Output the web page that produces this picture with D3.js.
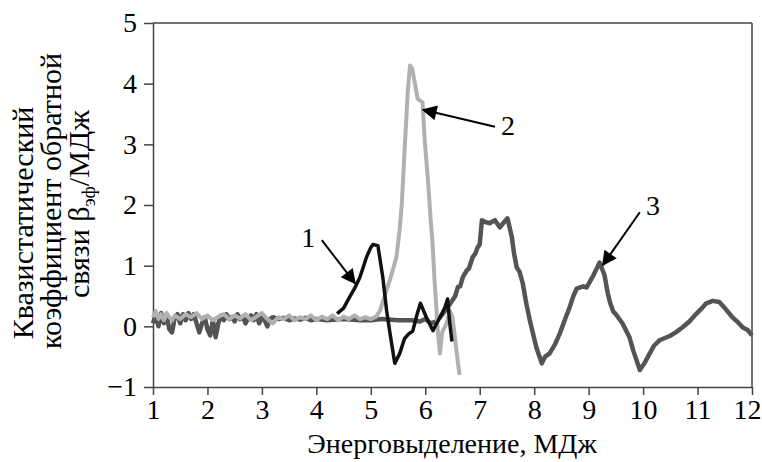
<!DOCTYPE html>
<html>
<head>
<meta charset="utf-8">
<script src="https://cdn.jsdelivr.net/npm/d3@7"></script>
<style>
  body { margin: 0; background: #fff; }
  text { font-family: "Liberation Serif", "Times New Roman", serif; fill: #000; }
</style>
</head>
<body>
<div id="chart"></div>
<script>
// series, [energy MJ, beta]
var curve1 = [
    [4.38, 0.21], [4.5, 0.3], [4.61, 0.48], [4.7, 0.62], [4.8, 0.81], [4.92, 1.14], [5.0, 1.3],
    [5.04, 1.35], [5.13, 1.33], [5.22, 0.81], [5.29, 0.26], [5.35, -0.1], [5.44, -0.61],
    [5.53, -0.45], [5.62, -0.2], [5.7, -0.12], [5.77, -0.08], [5.85, 0.2], [5.91, 0.38],
    [6.02, 0.15], [6.14, -0.07], [6.27, 0.15], [6.36, 0.31], [6.41, 0.45], [6.45, 0.05], [6.49, -0.25]
];

var curve2 = [
    [1.0, 0.15], [1.05, 0.25], [1.1, 0.12], [1.15, 0.2], [1.2, 0.1], [1.25, 0.22], [1.3, 0.15],
    [1.35, 0.1], [1.4, 0.18], [1.5, 0.12], [1.6, 0.2], [1.7, 0.15], [1.8, 0.22], [1.9, 0.12],
    [2.0, 0.18], [2.1, 0.1], [2.2, 0.16], [2.3, 0.2], [2.4, 0.12], [2.5, 0.18], [2.6, 0.13],
    [2.7, 0.2], [2.8, 0.1], [2.9, 0.16], [3.0, 0.22], [3.1, 0.12], [3.2, 0.05], [3.3, 0.15],
    [3.4, 0.12], [3.5, 0.18], [3.6, 0.1], [3.7, 0.15], [3.8, 0.12], [3.9, 0.18], [4.0, 0.1],
    [4.1, 0.16], [4.2, 0.12], [4.3, 0.18], [4.4, 0.1], [4.5, 0.16], [4.6, 0.12], [4.7, 0.18],
    [4.8, 0.12], [4.9, 0.15], [5.0, 0.12], [5.1, 0.16], [5.17, 0.26], [5.29, 0.6], [5.35, 0.76],
    [5.47, 1.14], [5.53, 1.6], [5.57, 2.03], [5.62, 2.9], [5.68, 3.89], [5.72, 4.3], [5.76, 4.25],
    [5.81, 4.0], [5.86, 3.75], [5.95, 3.69], [5.99, 3.06], [6.05, 2.4], [6.1, 1.75], [6.13, 1.42],
    [6.17, 0.76], [6.23, -0.07], [6.27, -0.45], [6.31, -0.1], [6.39, 0.05], [6.45, 0.26],
    [6.5, 0.15], [6.56, -0.3], [6.6, -0.6], [6.63, -0.8]
];

var curve3 = [
    [1.0, 0.05], [1.05, 0.2], [1.1, 0.0], [1.15, 0.22], [1.2, 0.05], [1.25, 0.18], [1.3, -0.05],
    [1.35, -0.1], [1.4, 0.15], [1.45, 0.2], [1.5, 0.05], [1.55, 0.2], [1.6, 0.1], [1.65, 0.22],
    [1.7, 0.12], [1.75, 0.2], [1.8, 0.05], [1.85, -0.1], [1.9, 0.05], [1.95, 0.15], [2.0, -0.05],
    [2.05, -0.15], [2.1, 0.1], [2.15, -0.18], [2.2, 0.05], [2.25, 0.18], [2.3, 0.1], [2.35, 0.2],
    [2.4, 0.12], [2.45, 0.15], [2.5, 0.08], [2.55, 0.2], [2.6, 0.12], [2.65, 0.16], [2.7, 0.05],
    [2.75, 0.14], [2.8, 0.18], [2.85, 0.1], [2.9, 0.2], [2.95, 0.05], [3.0, 0.15], [3.05, 0.1],
    [3.1, 0.0], [3.15, 0.12], [3.2, 0.15], [3.3, 0.12], [3.4, 0.14], [3.5, 0.1], [3.6, 0.13],
    [3.7, 0.11], [3.8, 0.14], [3.9, 0.1], [4.0, 0.12], [4.2, 0.1], [4.5, 0.12], [4.8, 0.1],
    [5.0, 0.1], [5.2, 0.12], [5.5, 0.1], [5.75, 0.1], [5.9, 0.08], [6.0, 0.12], [6.1, 0.05],
    [6.2, 0.08], [6.3, 0.18], [6.4, 0.3], [6.5, 0.43], [6.55, 0.5], [6.6, 0.65], [6.64, 0.66],
    [6.69, 0.81], [6.76, 0.92], [6.8, 0.95], [6.87, 1.14], [6.92, 1.2], [6.96, 1.3], [7.0, 1.35],
    [7.04, 1.75], [7.1, 1.72], [7.18, 1.7], [7.28, 1.75], [7.37, 1.63], [7.45, 1.72], [7.51, 1.78],
    [7.59, 1.47], [7.63, 1.2], [7.68, 0.97], [7.73, 0.9], [7.79, 0.71], [7.85, 0.4], [7.92, 0.1],
    [8.0, -0.2], [8.04, -0.35], [8.14, -0.61], [8.2, -0.5], [8.28, -0.45], [8.38, -0.3],
    [8.47, -0.12], [8.56, 0.1], [8.65, 0.31], [8.72, 0.5], [8.78, 0.62], [8.9, 0.66], [8.96, 0.64],
    [9.07, 0.81], [9.2, 1.05], [9.29, 0.85], [9.35, 0.55], [9.39, 0.4], [9.45, 0.25], [9.5, 0.2],
    [9.62, 0.05], [9.75, -0.18], [9.82, -0.4], [9.88, -0.56], [9.94, -0.72], [10.03, -0.6],
    [10.12, -0.45], [10.2, -0.32], [10.3, -0.23], [10.49, -0.16], [10.6, -0.1], [10.72, -0.02],
    [10.85, 0.08], [10.98, 0.21], [11.08, 0.3], [11.16, 0.38], [11.28, 0.42], [11.4, 0.4],
    [11.52, 0.28], [11.64, 0.15], [11.75, 0.06], [11.83, -0.02], [11.92, -0.06], [12.0, -0.15]
];

var xTicks = [1, 2, 3, 4, 5, 6, 7, 8, 9, 10, 11, 12];
var yTicks = [-1, 0, 1, 2, 3, 4, 5];

// annotation labels: text, label pos and arrow from/to in data units
var notes = [
    { label: "1", lx: 3.85, ly: 1.47, fx: 4.1, fy: 1.42, tx: 4.71, ty: 0.71 },
    { label: "2", lx: 7.52, ly: 3.32, fx: 7.28, fy: 3.29, tx: 5.96, ty: 3.57 },
    { label: "3", lx: 10.18, ly: 2.0, fx: 9.94, fy: 1.88, tx: 9.26, ty: 1.01 }
];

var W = 762, H = 462;
var x = d3.scaleLinear().domain([1, 12]).range([153, 752]);
var y = d3.scaleLinear().domain([-1, 5]).range([387, 23]);

var svg = d3.select("#chart").append("svg")
    .attr("width", W)
    .attr("height", H);

svg.append("defs").append("marker")
    .attr("id", "head")
    .attr("viewBox", "0 0 10 10")
    .attr("refX", 9)
    .attr("refY", 5)
    .attr("markerWidth", 18)
    .attr("markerHeight", 15)
    .attr("markerUnits", "userSpaceOnUse")
    .attr("orient", "auto")
    .append("path")
    .attr("d", "M0,0 L10,5 L0,10 z")
    .attr("fill", "#000");

// frame
svg.append("line").attr("x1", x(1)).attr("x2", x(12)).attr("y1", y(5)).attr("y2", y(5))
    .style("stroke", "#444").style("stroke-width", 1.5);
svg.append("line").attr("x1", x(12)).attr("x2", x(12)).attr("y1", y(5)).attr("y2", y(-1))
    .style("stroke", "#444").style("stroke-width", 1.5);

var xAxis = svg.append("g")
    .attr("transform", "translate(0," + y(-1) + ")")
    .call(d3.axisBottom(x).tickValues(xTicks).tickFormat(d3.format("d"))
        .tickSize(8).tickSizeOuter(0).tickPadding(4));
var yAxis = svg.append("g")
    .attr("transform", "translate(" + x(1) + ",0)")
    .call(d3.axisLeft(y).tickValues(yTicks).tickFormat(d3.format("d"))
        .tickSize(9).tickSizeOuter(0).tickPadding(7));

[xAxis, yAxis].forEach(function (a) {
    a.select(".domain").style("stroke", "#444").style("stroke-width", 1.5);
    a.selectAll(".tick line").style("stroke", "#444").style("stroke-width", 1.5);
    a.selectAll(".tick text")
        .style("font-family", "'Liberation Serif', serif")
        .style("font-size", "28px")
        .style("fill", "#000");
});
// last label sits at the window edge; nudge it in
xAxis.selectAll(".tick text").filter(function (d) { return d === 12; }).attr("dx", -5);

var line = d3.line()
    .x(function (d) { return x(d[0]); })
    .y(function (d) { return y(d[1]); });

svg.append("path").datum(curve3).attr("d", line)
    .style("fill", "none").style("stroke", "#545454").style("stroke-width", 4.5)
    .style("stroke-linejoin", "round");
svg.append("path").datum(curve2).attr("d", line)
    .style("fill", "none").style("stroke", "#b0b0b0").style("stroke-width", 4)
    .style("stroke-linejoin", "round");
svg.append("path").datum(curve1).attr("d", line)
    .style("fill", "none").style("stroke", "#111").style("stroke-width", 3.5)
    .style("stroke-linejoin", "round");

// arrows with numbers
notes.forEach(function (n) {
    svg.append("line")
        .attr("x1", x(n.fx)).attr("y1", y(n.fy))
        .attr("x2", x(n.tx)).attr("y2", y(n.ty))
        .style("stroke", "#000").style("stroke-width", 2)
        .attr("marker-end", "url(#head)");
    svg.append("text")
        .attr("x", x(n.lx)).attr("y", y(n.ly))
        .attr("text-anchor", "middle")
        .attr("dy", "0.35em")
        .style("font-size", "28px")
        .text(n.label);
});

// axis titles
svg.append("text")
    .attr("x", 452).attr("y", 453)
    .attr("text-anchor", "middle")
    .style("font-size", "28px")
    .text("Энерговыделение, МДж");

var yTitle = [
    { text: "Квазистатический", cx: 33, cy: 223 },
    { text: "коэффициент обратной", cx: 61, cy: 201 },
    { text: null, cx: 89, cy: 204 }
];
yTitle.forEach(function (t) {
    var tx = svg.append("text")
        .attr("transform", "translate(" + t.cx + "," + t.cy + ") rotate(-90)")
        .attr("text-anchor", "middle")
        .style("font-size", "30px");
    if (t.text) {
        tx.text(t.text);
    } else {
        tx.append("tspan").text("связи β");
        tx.append("tspan").attr("dy", 6).style("font-size", "19px").text("эф");
        tx.append("tspan").attr("dy", -6).text("/МДж");
    }
});
</script>
</body>
</html>
